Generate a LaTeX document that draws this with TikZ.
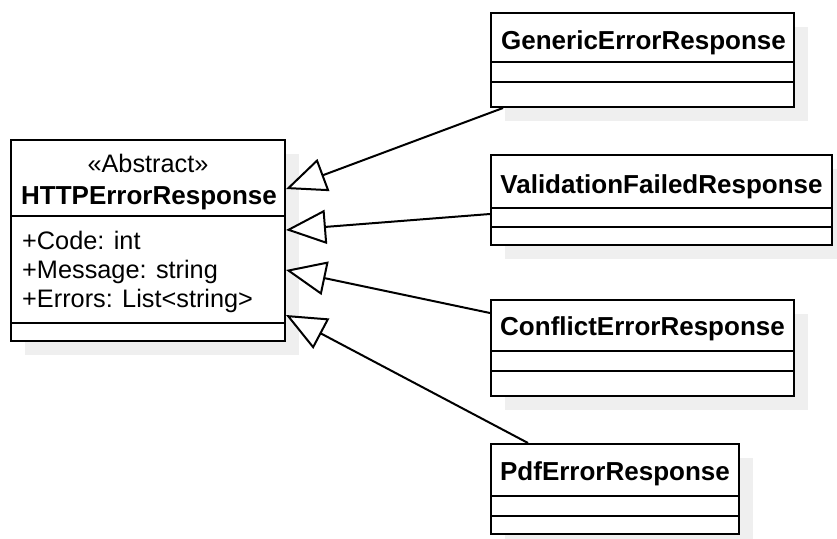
\documentclass[tikz,border=0pt]{standalone}
\usepackage{fontspec}
\setmainfont{Liberation Sans}
\usetikzlibrary{arrows.meta,calc}
\definecolor{shadowgray}{HTML}{EFEFEF}
\tikzset{
  classbox/.style={draw=black, line width=2pt, fill=white, rectangle, inner sep=0pt, outer sep=0pt, anchor=north west},
  shadowfill/.style={fill=shadowgray, draw=none},
  sepline/.style={line width=2pt},
  umltext/.style={inner sep=0pt, anchor=base, font=\fontsize{25.3}{30}\selectfont},
  umlleft/.style={umltext, anchor=base west},
  umlname/.style={umltext, font=\fontsize{26}{30}\selectfont\bfseries},
  inherit/.style={line width=2pt, -{Triangle[open, length=40pt, width=34pt, fill=white, line width=2pt]}}
}
\begin{document}
\begin{tikzpicture}[x=1pt,y=-1pt]
\useasboundingbox (0,0) rectangle (837,538);
% shadows
\fill[shadowfill] (25,154) rectangle (299,355);
\fill[shadowfill] (505,27) rectangle (808,121);
\fill[shadowfill] (505,169) rectangle (846,259);
\fill[shadowfill] (505,314) rectangle (808,410);
\fill[shadowfill] (505,458) rectangle (753,548);
% main class
\node[classbox, minimum width=274pt, minimum height=201pt] (main) at (11,140) {};
\draw[sepline] (11,216) -- (285,216);
\draw[sepline] (11,323) -- (285,323);
\node[umltext] (stereo) at (148,172) {«Abstract»};
\node[umlname] (mainname) at (149,204) {HTTPErrorResponse};
\node[umlleft] (a1) at (22,249) {+Code: int};
\node[umlleft] (a2) at (22,278) {+Message: string};
\node[umlleft] (a3) at (22,307) {+Errors: List<string>};
% GenericErrorResponse
\node[classbox, minimum width=303pt, minimum height=94pt] (generic) at (491,13) {};
\draw[sepline] (491,62) -- (794,62);
\draw[sepline] (491,82) -- (794,82);
\node[umlname] (gname) at (643.5,49) {GenericErrorResponse};
% ValidationFailedResponse
\node[classbox, minimum width=341pt, minimum height=90pt] (valid) at (491,155) {};
\draw[sepline] (491,208) -- (832,208);
\node[umlname] (vname) at (661.5,193) {ValidationFailedResponse};
\draw[sepline] (491,227) -- (832,227);
% ConflictErrorResponse
\node[classbox, minimum width=303pt, minimum height=96pt] (conflict) at (491,300) {};
\draw[sepline] (491,351) -- (794,351);
\draw[sepline] (491,371) -- (794,371);
\node[umlname] (cname) at (642.5,335) {ConflictErrorResponse};
% PdfErrorResponse
\node[classbox, minimum width=248pt, minimum height=90pt] (pdf) at (491,444) {};
\draw[sepline] (491,496) -- (739,496);
\draw[sepline] (491,516) -- (739,516);
\node[umlname] (pname) at (615,480) {PdfErrorResponse};
% connector end points
\coordinate (t1) at ($(main.north east)+(1,49)$);
\coordinate (t2) at ($(main.north east)+(1,90)$);
\coordinate (t3) at ($(main.north east)+(1,130)$);
\coordinate (t4) at ($(main.north east)+(1,175)$);
\coordinate (s1) at ($(generic.south west)+(12,1)$);
\coordinate (s2) at ($(valid.north west)+(-1,59)$);
\coordinate (s3) at ($(conflict.north west)+(-1,13)$);
\coordinate (s4) at ($(pdf.north west)+(37,-1)$);
\draw[inherit] (s1) -- (t1);
\draw[inherit] (s2) -- (t2);
\draw[inherit] (s3) -- (t3);
\draw[inherit] (s4) -- (t4);
\end{tikzpicture}
\end{document}
